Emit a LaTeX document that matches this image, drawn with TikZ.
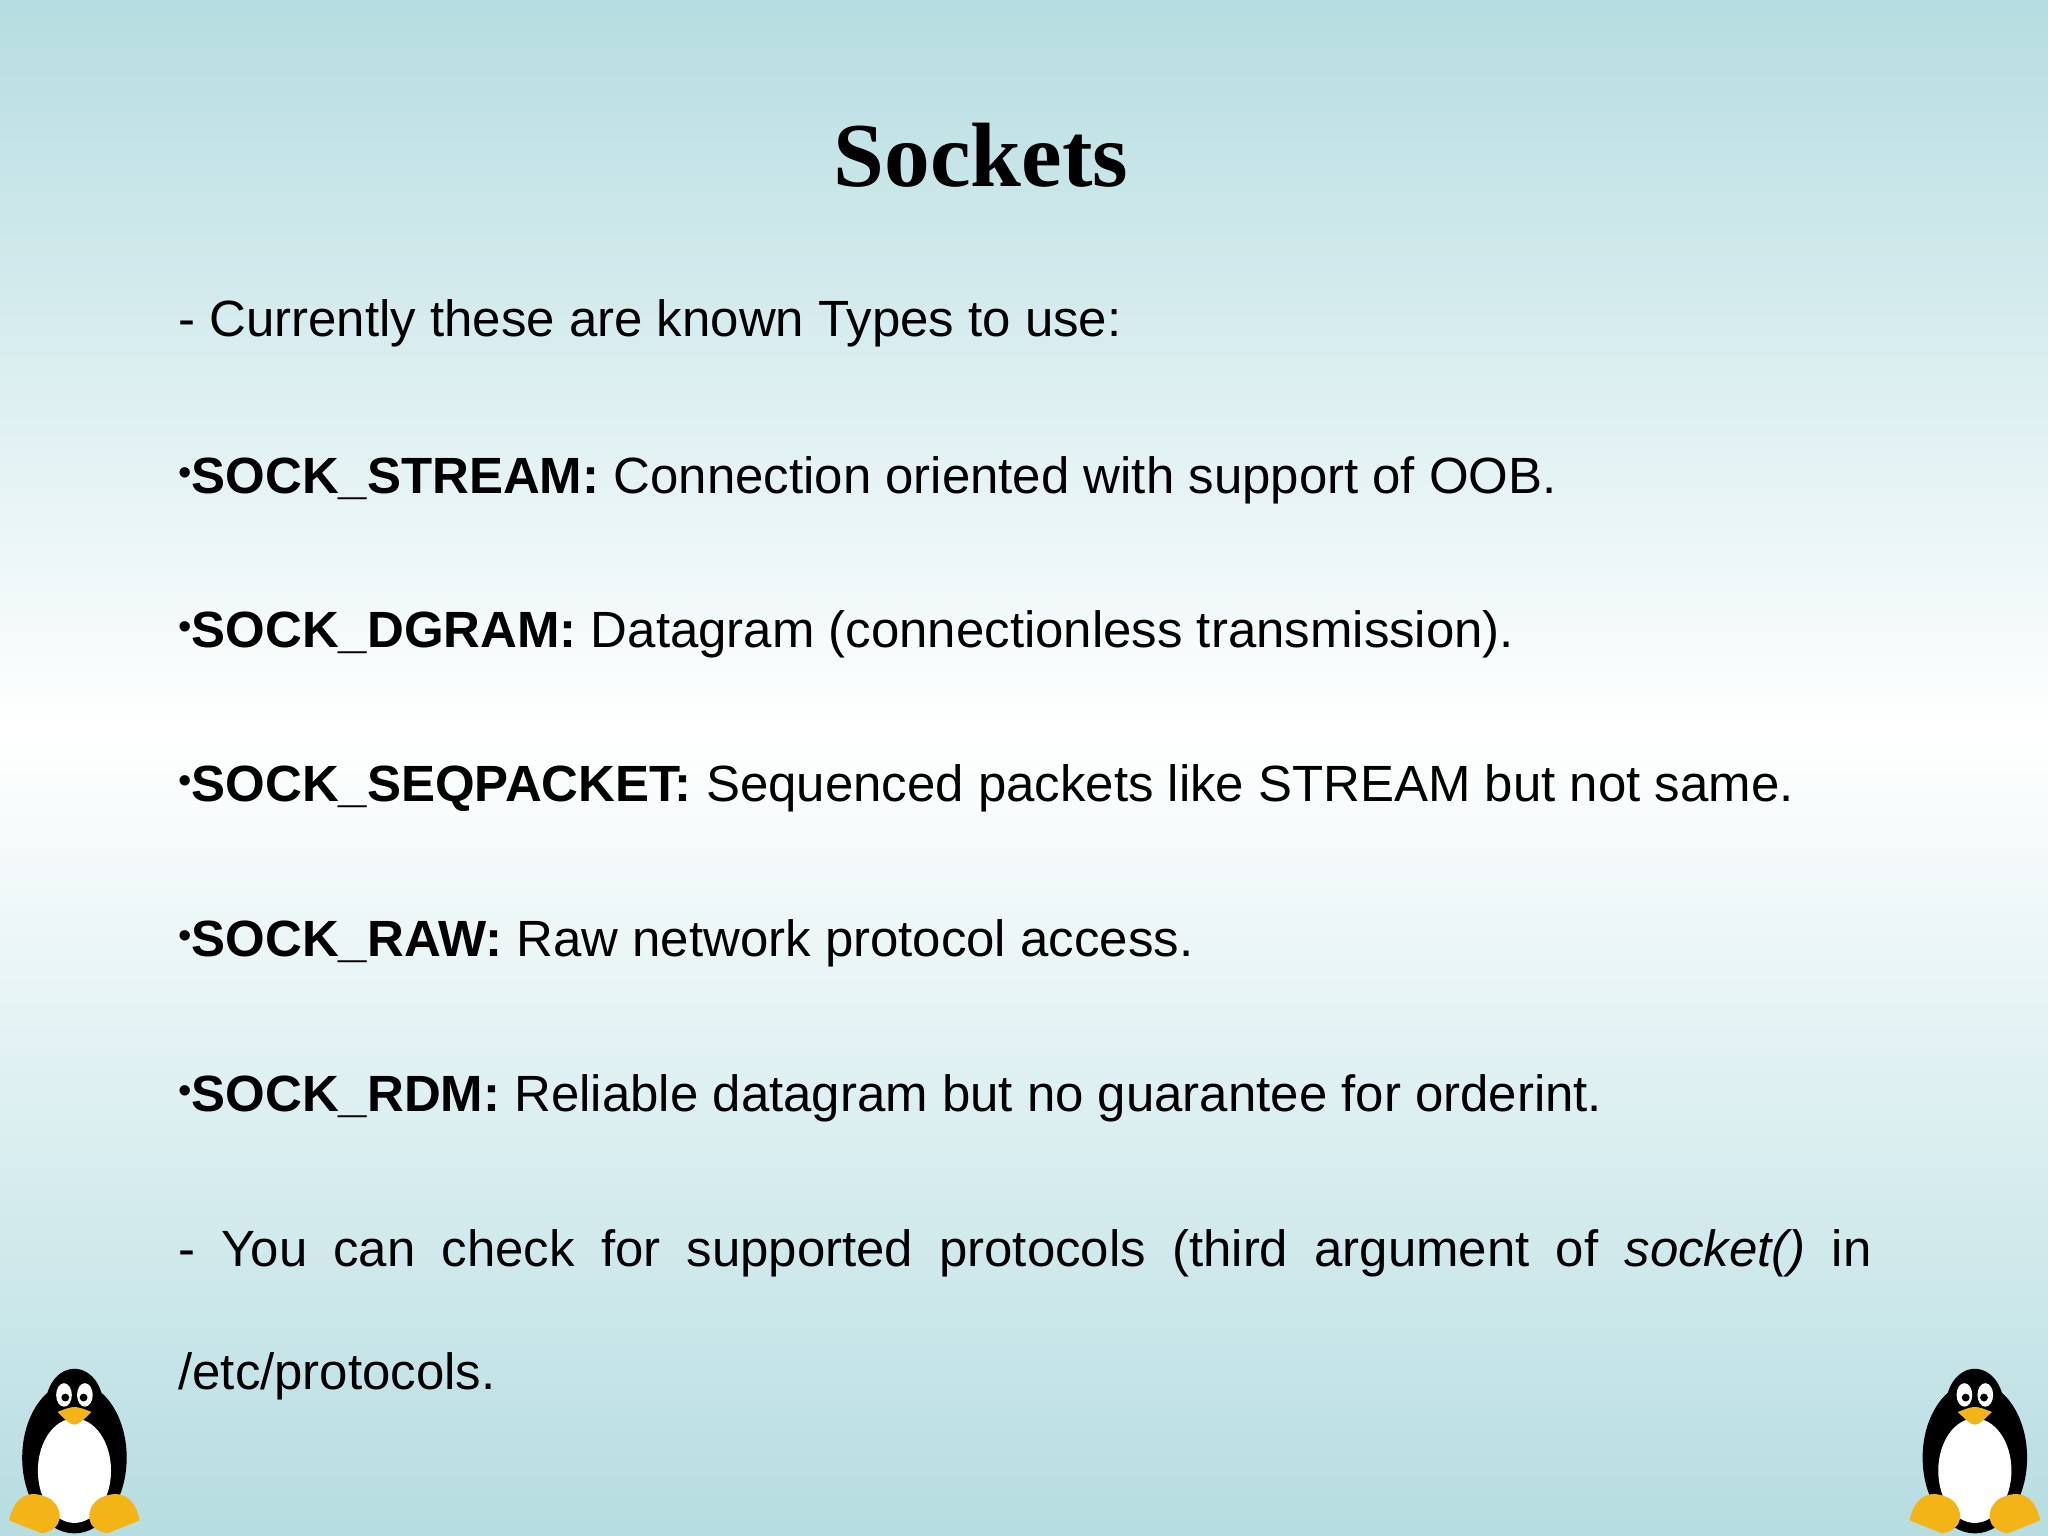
\documentclass[tikz,border=0pt]{standalone}
\usepackage{fontspec}
\setmainfont{Liberation Sans}
\newfontfamily\titlefont{Liberation Serif}
\definecolor{bgblue}{HTML}{B6DDE1}
\definecolor{tuxorange}{HTML}{F2B417}
\tikzset{
  line/.style={anchor=base west,font=\fontsize{14.5pt}{17pt}\selectfont,inner sep=0pt}
}
\newcommand{\bul}{\raisebox{0.3ex}{\scalebox{0.75}{•}}}
\newcommand{\tuxat}[3]{%
 \begin{scope}[shift={(#1,#2)},scale=#3]
  \fill[black] (0,70) ellipse (40 and 58);
  \fill[black] (0,30) ellipse (22 and 28);
  \fill[white] (0,80) ellipse (28 and 40);
  \fill[white] (-8,22) ellipse (6 and 9);
  \fill[white] (8,22) ellipse (6 and 9);
  \fill[black] (-7,24) circle (3);
  \fill[black] (7,24) circle (3);
  \fill[tuxorange] (-13,35) .. controls (0,30) .. (13,35) .. controls (0,48) .. (-13,35);
  \fill[tuxorange] (-50,118) .. controls (-45,95) and (-30,95) .. (-18,102) .. controls (-8,110) and (-8,125) .. (-25,128) -- cycle;
  \fill[tuxorange] (50,118) .. controls (45,95) and (30,95) .. (18,102) .. controls (8,110) and (8,125) .. (25,128) -- cycle;
 \end{scope}}
\begin{document}
\begin{tikzpicture}[x=0.013061cm,y=-0.013061cm]
\useasboundingbox (0,0) rectangle (1568,1176);
\shade[top color=bgblue,bottom color=white] (0,0) rectangle (1568,560);
\shade[top color=white,bottom color=bgblue] (0,560) rectangle (1568,1176);
\node[anchor=base,font=\titlefont\bfseries\fontsize{26pt}{30pt}\selectfont] (title) at (751,143) {Sockets};
\node[line] (l1) at (136,258) {- Currently these are known Types to use:};
\node[line] (l2) at (136,378) {\bul\textbf{SOCK\_STREAM:} Connection oriented with support of OOB.};
\node[line] (l3) at (136,496) {\bul\textbf{SOCK\_DGRAM:} Datagram (connectionless transmission).};
\node[line] (l4) at (136,614) {\bul\textbf{SOCK\_SEQPACKET:} Sequenced packets like STREAM but not same.};
\node[line] (l5) at (136,732) {\bul\textbf{SOCK\_RAW:} Raw network protocol access.};
\node[line] (l6) at (136,851) {\bul\textbf{SOCK\_RDM:} Reliable datagram but no guarantee for orderint.};
\node[line] (l7) at (136,970) {\makebox[481.8pt][s]{- You can check for supported protocols (third argument of \textit{socket()} in}};
\node[line] (l8) at (136,1064) {/etc/protocols.};
\tuxat{57}{1046}{1}
\tuxat{1512}{1046}{1}
\end{tikzpicture}
\end{document}
